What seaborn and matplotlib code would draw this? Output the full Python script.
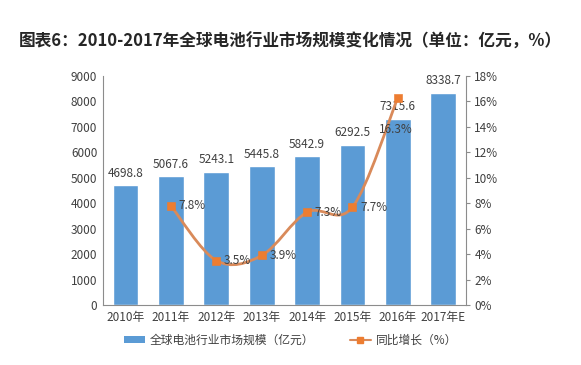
import numpy as np
import pandas as pd
import matplotlib
matplotlib.use("Agg")
import matplotlib.pyplot as plt
from matplotlib.path import Path
from matplotlib.patches import PathPatch
from matplotlib.lines import Line2D
from matplotlib.patches import Patch
import seaborn as sns

years = ["2010年", "2011年", "2012年", "2013年", "2014年", "2015年", "2016年", "2017年E"]
market_size = [4698.8, 5067.6, 5243.1, 5445.8, 5842.9, 6292.5, 7315.6, 8338.7]
growth_years = ["2011年", "2012年", "2013年", "2014年", "2015年", "2016年"]
growth_pct = [7.8, 3.5, 3.9, 7.3, 7.7, 16.3]

BAR_COLOR = "#5B9BD5"
LINE_COLOR = "#ED7D31"
TEXT_COLOR = "#404040"

sns.set_theme(style="white")
plt.rcParams["font.family"] = ["Noto Sans CJK SC", "DejaVu Sans"]


def smooth_path(x, y, tension=1 / 6):
    """Catmull-Rom style bezier path through the points (like Excel's smoothed line)."""
    pts = np.column_stack([x, y]).astype(float)
    verts = [pts[0]]
    codes = [Path.MOVETO]
    n = len(pts)
    for i in range(n - 1):
        p0 = pts[i - 1] if i > 0 else pts[i]
        p1, p2 = pts[i], pts[i + 1]
        p3 = pts[i + 2] if i + 2 < n else pts[i + 1]
        c1 = p1 + (p2 - p0) * tension
        c2 = p2 - (p3 - p1) * tension
        verts += [c1, c2, p2]
        codes += [Path.CURVE4] * 3
    return Path(verts, codes)


def main():
    df_bar = pd.DataFrame({"year": years, "size": market_size})
    df_line = pd.DataFrame({"year": growth_years, "pct": growth_pct})
    df_line["pos"] = [years.index(y) for y in growth_years]

    fig = plt.figure(figsize=(5.81, 3.65), dpi=100)
    ax = fig.add_axes([0.177, 0.164, 0.625, 0.628])

    sns.barplot(data=df_bar, x="year", y="size", color=BAR_COLOR,
                saturation=1, width=0.57, ax=ax)
    ax.set_xlim(-0.5, 7.5)
    ax.set_ylim(0, 9000)
    ax.set_yticks(np.arange(0, 9001, 1000))
    ax.set_xlabel("")
    ax.set_ylabel("")
    ax.tick_params(axis="both", labelsize=8.5, colors=TEXT_COLOR, length=0, pad=4)
    for s in ["top", "right"]:
        ax.spines[s].set_visible(False)
    for s in ["left", "bottom"]:
        ax.spines[s].set_color("#8c8c8c")
        ax.spines[s].set_linewidth(0.8)

    # value labels above the bars
    for i, v in enumerate(market_size):
        ax.text(i, v + 470, f"{v:.1f}", ha="center", va="center",
                fontsize=8.5, color=TEXT_COLOR)

    ax2 = ax.twinx()
    ax2.set_ylim(0, 18)
    ax2.set_yticks(np.arange(0, 19, 2))
    ax2.set_yticklabels([f"{t}%" for t in range(0, 19, 2)])
    ax2.tick_params(axis="y", labelsize=8.5, colors=TEXT_COLOR, length=3,
                    width=0.8, pad=3)
    ax2.tick_params(axis="y", color="#8c8c8c")
    for s in ["top", "left", "bottom"]:
        ax2.spines[s].set_visible(False)
    ax2.spines["right"].set_color("#8c8c8c")
    ax2.spines["right"].set_linewidth(0.8)

    path = smooth_path(df_line["pos"], df_line["pct"])
    ax2.add_patch(PathPatch(path, facecolor="none", edgecolor="#D98A5A",
                            linewidth=2.0, zorder=3))
    sns.scatterplot(data=df_line, x="pos", y="pct", marker="s", s=30,
                    color=LINE_COLOR, edgecolor=LINE_COLOR, zorder=4,
                    legend=False, ax=ax2)
    ax2.set_xlim(-0.5, 7.5)
    ax2.set_xlabel("")
    ax2.set_ylabel("")

    for x, y in zip(df_line["pos"], df_line["pct"]):
        if y > 15:
            ax2.text(x - 0.05, y - 2.5, f"{y:.1f}%", ha="center", va="center",
                     fontsize=8.5, color=TEXT_COLOR)
        else:
            ax2.text(x + 0.17, y, f"{y:.1f}%", ha="left", va="center",
                     fontsize=8.5, color=TEXT_COLOR)

    fig.text(0.5, 0.885, "图表6：2010-2017年全球电池行业市场规模变化情况（单位：亿元，%）",
             ha="center", va="center", fontsize=12, fontweight="bold", color="#262626")

    handles = [
        Patch(facecolor=BAR_COLOR, edgecolor="none"),
        Line2D([0], [0], color="#D98A5A", lw=1.5, marker="s", markersize=4,
               markerfacecolor=LINE_COLOR, markeredgecolor=LINE_COLOR),
    ]
    fig.legend(handles, ["全球电池行业市场规模（亿元）", "同比增长（%）"],
               loc="center", bbox_to_anchor=(0.50, 0.068), ncol=2, frameon=False,
               fontsize=8.5, handlelength=1.8, handleheight=0.6,
               columnspacing=3.0, handletextpad=0.4, labelcolor=TEXT_COLOR)

    fig.savefig("out.png", dpi=100, facecolor="white")
    plt.close(fig)


if __name__ == "__main__":
    main()
